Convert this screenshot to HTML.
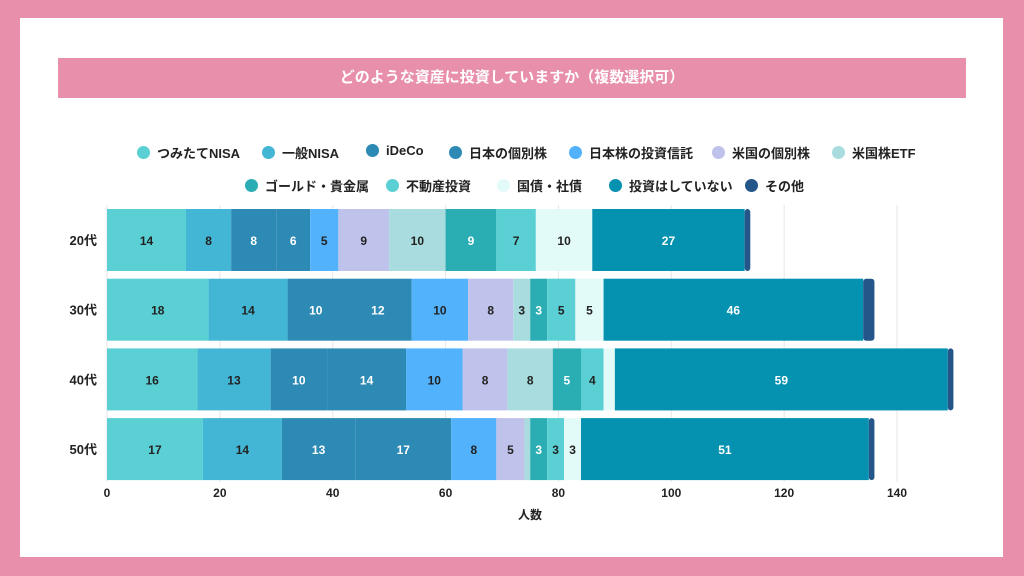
<!DOCTYPE html>
<html><head><meta charset="utf-8"><style>
body{margin:0;width:1024px;height:576px;background:#e88fab;font-family:"Liberation Sans","Noto Sans CJK JP",sans-serif;overflow:hidden}
#card{position:absolute;left:20px;top:18px;width:983px;height:539px;background:#fff}
#title{position:absolute;left:58px;top:58px;width:908px;height:40px;background:#e88fab;color:#fff;font-size:15px;font-weight:bold;text-align:center;line-height:40px}
.leg{position:absolute;font-size:13px;font-weight:bold;color:#222;display:flex;align-items:center;white-space:nowrap}
.leg i{display:inline-block;width:13px;height:13px;border-radius:50%;margin-right:7px}
</style></head><body>
<div id="card"></div>
<div id="title">どのような資産に投資していますか（複数選択可）</div>
<div id="legend"></div>
<svg id="chart" width="1024" height="576" style="position:absolute;left:0;top:0"></svg>
<script>
const categories=["20代","30代","40代","50代"];
const seriesNames=["つみたてNISA","一般NISA","iDeCo","日本の個別株","日本株の投資信託","米国の個別株","米国株ETF","ゴールド・貴金属","不動産投資","国債・社債","投資はしていない","その他"];
const colors=["#5ad0d4","#42b6d4","#2d8ab5","#2d8ab5","#52b2fc","#bfc2ea","#a9dcde","#2aaeb4","#5ad0d4","#e3fbf8","#0591b0","#25568a"];
const s0=[14,18,16,17];
const s1=[8,14,13,14];
const s2=[8,10,10,13];
const s3=[6,12,14,17];
const s4=[5,10,10,8];
const s5=[9,8,8,5];
const s6=[10,3,8,1];
const s7=[9,3,5,3];
const s8=[7,5,4,3];
const s9=[10,5,2,3];
const s10=[27,46,59,51];
const s11=[1,2,1,1];
const series=[s0,s1,s2,s3,s4,s5,s6,s7,s8,s9,s10,s11];
const xTicks=[0,20,40,60,80,100,120,140];
const whiteText=[false,false,true,true,false,false,false,true,false,false,true,true];
const NS="http://www.w3.org/2000/svg";
const svg=document.getElementById('chart');
const x0=107,x1=897,xmax=140;
const X=v=>x0+(x1-x0)*v/xmax;
const rowTop=[209,279,348,418],bandH=62;
const Y=i=>209+i*69.7;
function mk(t,a){const e=document.createElementNS(NS,t);for(const k in a)e.setAttribute(k,a[k]);svg.appendChild(e);return e;}
xTicks.forEach(t=>{
 const l=mk('line',{x1:X(t),x2:X(t),y1:205,y2:482,stroke:'#e6e6e6','stroke-width':1});
 
 
 const tx=mk('text',{x:X(t),y:497,'text-anchor':'middle','font-size':12,'font-weight':'bold',fill:'#222'});
 tx.textContent=t;
 
 
});
const xt=mk('text',{x:530,y:519,'text-anchor':'middle','font-size':12,'font-weight':'bold',fill:'#222'});
xt.textContent='人数';


categories.forEach((c,i)=>{
 const y=Y(i);
 const lab=mk('text',{x:97,y:y+bandH/2+5,'text-anchor':'end','font-size':13,'font-weight':'bold',fill:'#222'});
 lab.textContent=c;
 
 
 let acc=0;
 series.forEach((s,j)=>{
  const v=s[i];if(!v)return;
  const r=mk('rect',{x:X(acc),y:y,width:X(acc+v)-X(acc),height:bandH,fill:colors[j],rx:j==11?3:0});
  
  
  if(v>=3&&j!=11){
   const t=mk('text',{x:(X(acc)+X(acc+v))/2,y:y+bandH/2+5,'text-anchor':'middle','font-size':12,'font-weight':'bold',fill:whiteText[j]?'#fff':'#222'});
   t.textContent=v;
   
   
  }
  acc+=v;
 });
});
const legRows=[[0,7,137],[7,12,245]];
const legPos=[[137,152],[262,152],[366,152],[449,152],[569,152],[712,152],[832,152],[245,185],[386,185],[497,185],[609,185],[745,185]];
const legend=document.getElementById('legend');
seriesNames.forEach((n,j)=>{
 const d=document.createElement('div');d.className='leg';
 d.style.left=legPos[j][0]+'px';d.style.top=(legPos[j][1]-9)+'px';
 d.innerHTML='<i style="background:'+colors[j]+'"></i>'+n;
 
 
 legend.appendChild(d);
});
</script>
</body></html>
